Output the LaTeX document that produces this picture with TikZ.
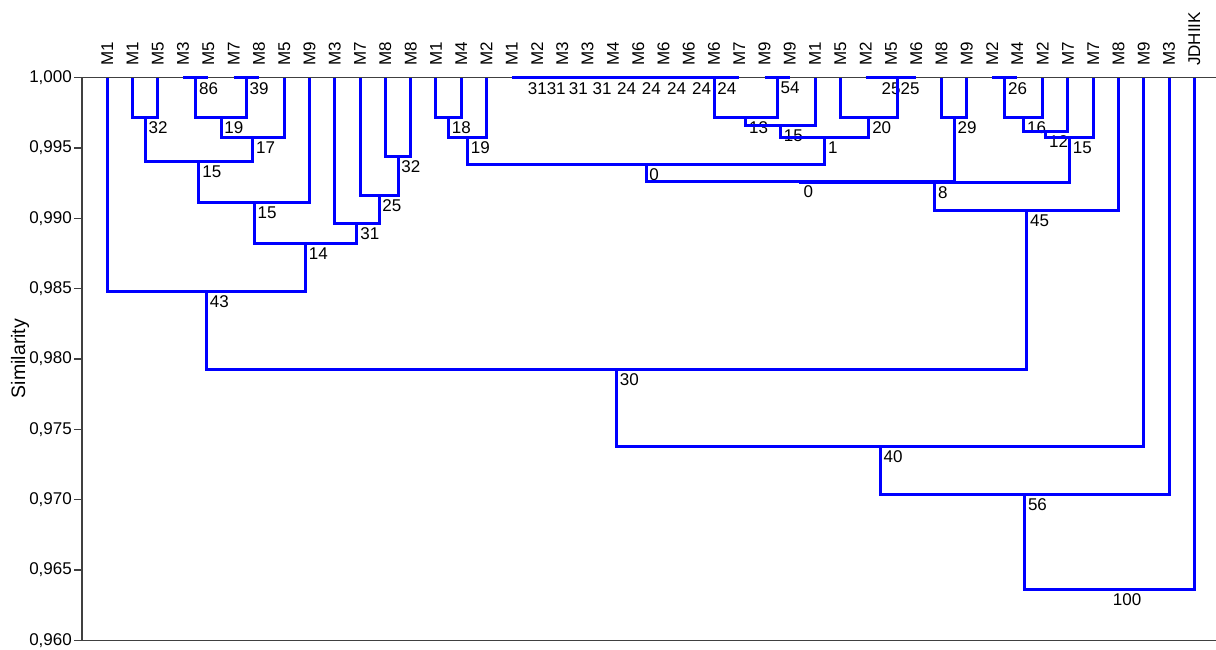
\documentclass[tikz,border=0pt]{standalone}
\usepackage{fontspec}
\setmainfont{Liberation Sans}
\usetikzlibrary{calc}

\begin{document}
\begin{tikzpicture}[x=1pt, y=-1pt, line join=miter,
		tree/.style={blue, line width=3pt},
		axis/.style={black!75, line width=1.3pt},
		num/.style={anchor=west, inner sep=0pt, font=\fontsize{17}{20}\selectfont},
		leaf/.style={rotate=90, anchor=west, inner sep=0pt, font=\fontsize{17}{20}\selectfont},
		ticklab/.style={anchor=east, inner sep=0pt, font=\fontsize{17}{20}\selectfont}]
			\useasboundingbox (0,0) rectangle (1216,649);
			\def\ytop{77.7}
			\def\dx{25.28}
			
			% frame
			\coordinate (T) at (82, \ytop);
			\coordinate (O) at (82, 640.3);
			\coordinate (TR) at (1216, \ytop);
			\coordinate (BR) at (1216, 640.3);
			\draw[axis] (TR) -- (T) -- (O) -- (BR);
			
			\foreach \t [count=\k from 0] in {{1,000},{0,995},{0,990},{0,985},{0,980},{0,975},{0,970},{0,965},{0,960}} {
				\coordinate (k\k) at (82, {\ytop+70.325*\k});
				\draw[axis] (k\k) -- ++(-8,0);
				\node[ticklab] (v\k) at ([shift={(-10,0)}]k\k) {\t};
			}
			\node[rotate=90, inner sep=0pt, font=\fontsize{19.5}{22}\selectfont] (ylab) at (20, 358.5) {Similarity};
			
			% leaves
			\foreach \n [count=\i from 0] in {M1,M1,M5,M3,M5,M7,M8,M5,M9,M3,M7,M8,M8,M1,M4,M2,M1,M2,M3,M3,M4,M6,M6,M6,M6,M7,M9,M9,M1,M5,M2,M5,M6,M8,M9,M2,M4,M2,M7,M7,M8,M9,M3,JDHIIK} {
				\coordinate (L\i) at ({107.3+\dx*\i}, \ytop);
				\node[leaf] (t\i) at ([shift={(0,-11.7)}]L\i) {\n};
			}
			
			% a, b, name, height, label
			\def\merge#1#2#3#4#5{
				\coordinate (tmp) at ($(#1)!0.5!(#2)$);
				\coordinate (#3) at (tmp |- 0,#4);
				\draw[tree] (#1) |- (#3) -| (#2);
				\node[num] (n#3) at ([shift={(3.2,10.5)}]#3) {#5};
			}
			
			\merge{L3}{L4}{m1}{\ytop}{86}
			\merge{L5}{L6}{m2}{\ytop}{39}
			\merge{L16}{L17}{m3}{\ytop}{31}
			\merge{m3}{L18}{m4}{\ytop}{31}
			\merge{m4}{L19}{m5}{\ytop}{31}
			\merge{m5}{L20}{m6}{\ytop}{31}
			\merge{m6}{L21}{m7}{\ytop}{24}
			\merge{m7}{L22}{m8}{\ytop}{24}
			\merge{m8}{L23}{m9}{\ytop}{24}
			\merge{m9}{L24}{m10}{\ytop}{24}
			\merge{m10}{L25}{m11}{\ytop}{24}
			\merge{L26}{L27}{m12}{\ytop}{54}
			\merge{L30}{L31}{m13}{\ytop}{25}
			\merge{m13}{L32}{m14}{\ytop}{25}
			\merge{L35}{L36}{m15}{\ytop}{26}
			
			\merge{L1}{L2}{a1}{117.5}{32}
			\merge{m1}{m2}{a2}{117.5}{19}
			\merge{a2}{L7}{a3}{137.5}{17}
			\merge{a1}{a3}{a4}{161.5}{15}
			\merge{a4}{L8}{a5}{202.5}{15}
			\merge{L11}{L12}{b1}{156.5}{32}
			\merge{L10}{b1}{b2}{195.5}{25}
			\merge{L9}{b2}{b3}{223.5}{31}
			\merge{a5}{b3}{a6}{243.5}{14}
			\merge{L0}{a6}{a7}{291.5}{43}
			
			\merge{L13}{L14}{c1}{117.5}{18}
			\merge{c1}{L15}{c2}{137.5}{19}
			\merge{m11}{m12}{d1}{117.5}{13}
			\merge{d1}{L28}{d2}{125.5}{15}
			\merge{L29}{m14}{d3}{117.5}{20}
			\merge{d2}{d3}{d4}{137.5}{1}
			\merge{c2}{d4}{c3}{164.5}{0}
			\merge{L33}{L34}{e1}{117.5}{29}
			\merge{c3}{e1}{c4}{181.5}{0}
			\merge{m15}{L37}{f1}{117.5}{16}
			\merge{f1}{L38}{f2}{131.5}{12}
			\merge{f2}{L39}{f3}{137.5}{15}
			\merge{c4}{f3}{c5}{182.5}{8}
			\merge{c5}{L40}{c6}{210.5}{45}
			
			\merge{a7}{c6}{r1}{369.5}{30}
			\merge{r1}{L41}{r2}{446.5}{40}
			\merge{r2}{L42}{r3}{494.5}{56}
			\merge{r3}{L43}{r4}{589.5}{100}
	\end{tikzpicture}
\end{document}
